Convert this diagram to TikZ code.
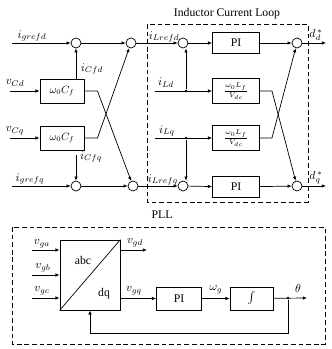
\documentclass[tikz,border=0pt]{standalone}
\usepackage{fontspec}
\setmainfont{Liberation Serif}
\usetikzlibrary{arrows.meta,positioning,calc}

\begin{document}
\begin{tikzpicture}[x=0.03cm, y=-0.03cm,
            blk/.style={rectangle, draw, thick, inner sep=0pt, font=\small},
            sumj/.style={circle, draw, semithick, minimum size=0.3cm, inner sep=0pt},
            arr/.style={draw, semithick, -{Latex[length=3.5pt,width=3pt]}},
            wire/.style={draw, semithick},
            lbl/.style={font=\normalsize, inner sep=1pt},
            frame/.style={draw, thick, dash pattern=on 4pt off 2.5pt},
            jdot/.style={circle, fill, inner sep=0pt, minimum size=2.2pt}]
            \useasboundingbox (0,0) rectangle (331,349);

            % voltage feed-forward part
            \node [sumj] (sa) at (76,43) {};
            \node [sumj] (sb) at (131,43) {};
            \node [sumj] (qa) at (76,186) {};
            \node [sumj] (qb) at (133,186) {};
            \node [blk, minimum width=1.32cm, minimum height=0.72cm] (cd) at (62,91) {$\omega_0 C_f$};
            \node [blk, minimum width=1.32cm, minimum height=0.72cm] (cq) at (62,138) {$\omega_0 C_f$};
            \coordinate (igd) at (12,43);
            \coordinate (igq) at (12,186);
            \coordinate (vcd) at (10,91);
            \coordinate (vcq) at (10,138);
            \coordinate (icd) at (76,80);
            \coordinate (icq) at (76,155);
            \node [lbl] (tigd) at (32,36) {$i_{grefd}$};
            \node [lbl] (tigq) at (30,179) {$i_{grefq}$};
            \node [lbl] (tvcd) at (15,83) {$v_{Cd}$};
            \node [lbl] (tvcq) at (15,131) {$v_{Cq}$};
            \node [lbl] (ticd) at (92,69) {$i_{Cfd}$};
            \node [lbl] (ticq) at (91,157) {$i_{Cfq}$};

            \path [arr] (igd) -- (sa);
            \path [arr] (igq) -- (qa);
            \path [arr] (vcd) -- (cd);
            \path [arr] (vcq) -- (cq);
            \path [arr] (icd) -- (sa);
            \path [arr] (icq) -- (qa);
            \path [arr] (sa) -- (sb);
            \path [arr] (qa) -- (qb);
            \path [arr] (cd.east) -- ++(13,0) -- (qb);
            \path [arr] (cq.east) -- ++(13,0) -- (sb);

            % inductor current loop
            \path [frame] (147,24) rectangle (308,202);
            \node [font=\normalsize] (tloop) at (227,14) {Inductor Current Loop};
            \node [sumj] (sc) at (183,43) {};
            \node [sumj] (sd) at (297,43) {};
            \node [sumj] (qc) at (183,186) {};
            \node [sumj] (qd) at (297,186) {};
            \node [blk, minimum width=1.41cm, minimum height=0.63cm, font=\normalsize] (pid) at (236,43) {PI};
            \node [blk, minimum width=1.41cm, minimum height=0.63cm, font=\normalsize] (piq) at (236,187) {PI};
            \node [blk, minimum width=1.41cm, minimum height=0.75cm] (ld) at (236,91) {$\frac{\omega_0 L_f}{V_{dc}}$};
            \node [blk, minimum width=1.41cm, minimum height=0.75cm] (lq) at (236,138) {$\frac{\omega_0 L_f}{V_{dc}}$};
            \coordinate (ild) at (155,91);
            \coordinate (ilq) at (155,138);
            \node [jdot] (jd) at (186,91) {};
            \node [jdot] (jq) at (186,138) {};
            \coordinate (dd) at (326,43);
            \coordinate (dq) at (326,186);
            \node [lbl] (tild) at (164,37) {$i_{Lrefd}$};
            \node [lbl] (tilq) at (163,180) {$i_{Lrefq}$};
            \node [lbl] (tld) at (166,83) {$i_{Ld}$};
            \node [lbl] (tlq) at (167,131) {$i_{Lq}$};
            \node [lbl] (tdd) at (316,35) {$d_d^{\,*}$};
            \node [lbl] (tdq) at (316,178) {$d_q^{\,*}$};

            \path [arr] (sb) -- (sc);
            \path [arr] (qb) -- (qc);
            \path [arr] (sc) -- (pid);
            \path [arr] (qc) -- (piq);
            \path [arr] (pid) -- (sd);
            \path [arr] (piq) -- (qd);
            \path [arr] (ild) -- (ld);
            \path [arr] (ilq) -- (lq);
            \path [arr] (jd) -- (sc.south -| jd);
            \path [arr] (jq) -- (qc.north -| jq);
            \path [arr] (ld.east) -- ++(12,0) -- (qd);
            \path [arr] (lq.east) -- ++(12,0) -- (sd);
            \path [arr] (sd) -- (dd);
            \path [arr] (qd) -- (dq);

            % PLL
            \path [frame] (12,227) rectangle (325,344);
            \node [font=\normalsize] (tpll) at (162,215) {PLL};
            \node [blk, minimum width=1.8cm, minimum height=2.1cm] (abc) at (90,275) {};
            \path [wire] (abc.south west) -- (abc.north east);
            \node [lbl] (tabc) at (83,260) {abc};
            \node [lbl] (tdqf) at (104,294) {dq};
            \node [blk, minimum width=1.35cm, minimum height=0.69cm, font=\normalsize] (pipll) at (179,298.5) {PI};
            \node [blk, minimum width=1.29cm, minimum height=0.69cm, font=\normalsize] (intg) at (251.5,298.5) {$\int$};
            \coordinate (vga) at (32,250);
            \coordinate (vgb) at (32,275);
            \coordinate (vgc) at (32,298);
            \coordinate (vgd) at (147,250);
            \coordinate (th) at (307,298);
            \node [jdot] (jth) at (288,298) {};
            \coordinate (fba) at (288,333);
            \coordinate (fbb) at (90,333);
            \node [lbl] (tvga) at (42,244) {$v_{ga}$};
            \node [lbl] (tvgb) at (43,268) {$v_{gb}$};
            \node [lbl] (tvgc) at (42,291) {$v_{gc}$};
            \node [lbl] (tvgd) at (135,243) {$v_{gd}$};
            \node [lbl] (tvgq) at (134,291) {$v_{gq}$};
            \node [lbl] (twg) at (216,290) {$\omega_g$};
            \node [lbl] (tth) at (298,288) {$\theta$};

            \path [arr] (vga) -- (abc.west |- vga);
            \path [arr] (vgb) -- (abc.west |- vgb);
            \path [arr] (vgc) -- (abc.west |- vgc);
            \path [arr] (abc.east |- vgd) -- (vgd);
            \path [arr] (abc.east |- pipll) -- (pipll);
            \path [arr] (pipll) -- (intg);
            \path [arr] (intg) -- (th);
            \path [arr] (jth) -- (fba) -- (fbb) -- (abc.south);
        \end{tikzpicture}
\end{document}
